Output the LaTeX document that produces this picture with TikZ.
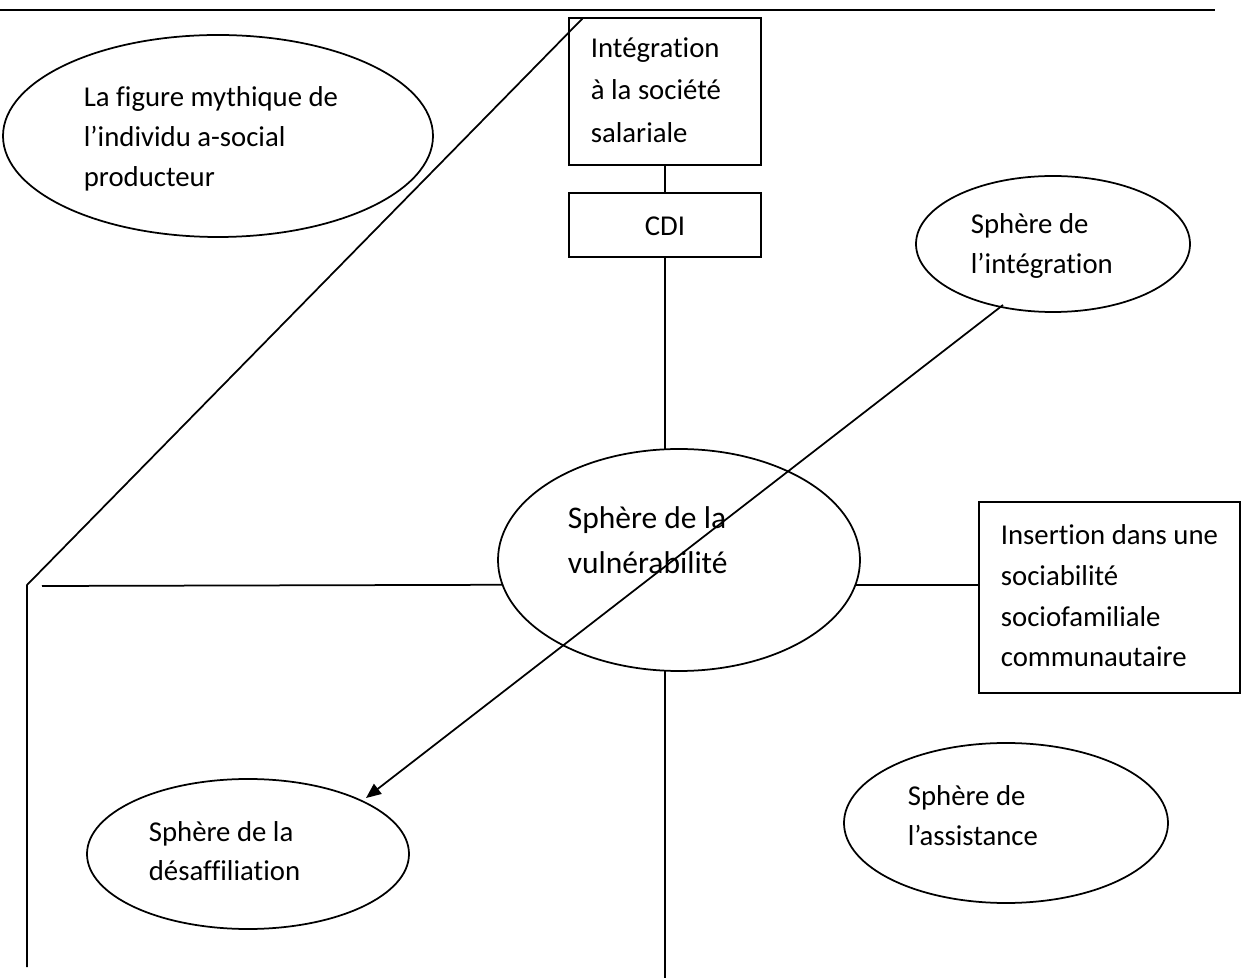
\documentclass[tikz,border=0pt]{standalone}
\usepackage{fontspec}
\setmainfont{Carlito}[Ligatures={NoCommon}]
\usetikzlibrary{shapes.geometric,arrows.meta}
\begin{document}
\begin{tikzpicture}[x=0.4pt,y=-0.4pt,line width=0.7pt,
  ell/.style={draw,ellipse,inner sep=0pt,outer sep=0pt},
  boxnode/.style={draw,rectangle,inner sep=0pt,outer sep=0pt},
  txt/.style={inner sep=0pt,align=left,anchor=west,font=\fontsize{11.5}{16}\selectfont},
  arr/.style={-{Triangle[length=6pt,width=5pt]}}]
\useasboundingbox (0,0) rectangle (1241,978);
% ellipses
\node[ell,minimum width=172pt,minimum height=80.8pt] (myth) at (218,136) {};
\node[ell,minimum width=109.6pt,minimum height=54.4pt] (integ) at (1053,244) {};
\node[ell,minimum width=144.8pt,minimum height=88.8pt] (vuln) at (679,560) {};
\node[ell,minimum width=128.8pt,minimum height=60pt] (desaf) at (248,854) {};
\node[ell,minimum width=129.6pt,minimum height=64pt] (assist) at (1006,823) {};
% boxes
\node[boxnode,minimum width=76.8pt,minimum height=58.8pt] (topbox) at (665,91.5) {};
\node[boxnode,minimum width=76.8pt,minimum height=25.6pt] (cdi) at (665,225) {};
\node[boxnode,minimum width=104.4pt,minimum height=76.4pt] (ins) at (1109.5,597.5) {};
% texts
\node[txt] (tmyth) at (83,139) {La figure mythique de\\l’individu a-social\\producteur};
\node[txt,font=\fontsize{11.5}{17}\selectfont] (ttop) at (590,90) {Intégration\\à la société\\salariale};
\node[inner sep=0pt,font=\fontsize{11.5}{16}\selectfont] (tcdi) at (665,226) {CDI};
\node[txt] (tinteg) at (970,246) {Sphère de\\l’intégration};
\node[txt,font=\fontsize{12.6}{18}\selectfont] (tvuln) at (567,540) {Sphère de la\\vulnérabilité};
\node[txt,font=\fontsize{11.5}{16.3}\selectfont] (tins) at (1000,596) {Insertion dans une\\sociabilité\\sociofamiliale\\communautaire};
\node[txt,font=\fontsize{11.5}{15.4}\selectfont] (tdesaf) at (148,851) {Sphère de la\\désaffiliation};
\node[txt] (tassist) at (907,816) {Sphère de\\l’assistance};
% free ends
\coordinate (tl) at (0,10);
\coordinate (tr) at (1215,10);
\coordinate (d1) at (583,18);
\coordinate (corner) at (27,585);
\coordinate (lb) at (27,967);
\coordinate (hl) at (42,586);
\coordinate (bot) at (665,978);
\coordinate (as) at (1003,305);
\coordinate (tip) at (366,798);
% connectors
\draw (tl) -- (tr);
\draw (d1) -- (corner) -- (lb);
\draw (topbox.south) -- (cdi.north);
\draw (cdi.south) -- (cdi.south |- vuln.north);
\draw (vuln.south -| cdi.south) -- (bot);
\draw (hl) -- (vuln.188.4);
\draw (vuln.-8.4) -- (vuln.-8.4 -| ins.west);
\draw[arr] (as) -- (tip);
\end{tikzpicture}
\end{document}
